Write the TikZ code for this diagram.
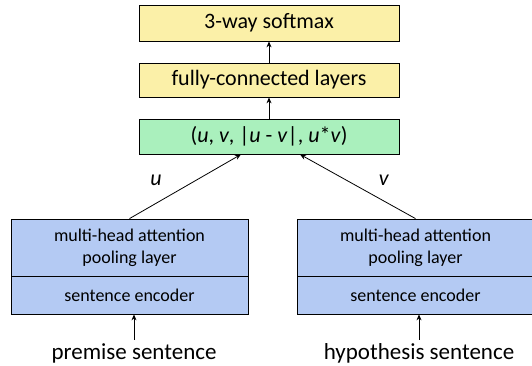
\documentclass[tikz,border=0pt]{standalone}
\usepackage{fontspec}
\setmainfont{Carlito}
\usepackage{xcolor}
\usetikzlibrary{arrows.meta, positioning}

\definecolor{boxyellow}{HTML}{FBF0A8}
\definecolor{boxgreen}{HTML}{AAF0BD}
\definecolor{boxblue}{HTML}{B4CAF3}

\begin{document}
\begin{tikzpicture}[
    x=1pt, y=-1pt,
    font=\fontsize{22}{26}\selectfont,
    topbox/.style={draw, thick, minimum width=260pt, inner sep=0pt},
    encbox/.style={draw, thick, fill=boxblue, minimum width=237pt, inner sep=0pt,
        font=\fontsize{18}{22}\selectfont, align=center},
    arr/.style={-{Stealth[length=6pt, width=5pt]}, thick}
]

\useasboundingbox (0,0) rectangle (532,366);

% output stack
\node[topbox, fill=boxyellow, minimum height=36pt] (smax) at (269,23) {3-way softmax};
\node[topbox, fill=boxyellow, minimum height=34pt] (fc) at (269,80) {fully-connected layers};
\node[topbox, fill=boxgreen, minimum height=35pt] (concat) at (269,136.5)
    {(\textit{u}, \textit{v}, |\textit{u} - \textit{v}|, \textit{u}*\textit{v})};

% premise branch
\node[encbox, minimum height=57pt] (ppool) at (129.5,247.5) {multi-head attention\\pooling layer};
\node[encbox, minimum height=38pt] (penc) at (129.5,295) {sentence encoder};
\node[font=\fontsize{23}{27}\selectfont] (prem) at (134,353) {premise sentence};

% hypothesis branch
\node[encbox, minimum height=57pt] (hpool) at (415.5,247.5) {multi-head attention\\pooling layer};
\node[encbox, minimum height=38pt] (henc) at (415.5,295) {sentence encoder};
\node[font=\fontsize{23}{27}\selectfont] (hyp) at (419,353) {hypothesis sentence};

% connectors
\draw[arr] (fc.north) -- (smax.south);
\draw[arr] (concat.north) -- (fc.south);
\draw[arr] (ppool.north) -- node[pos=0.6, left=31pt] {\textit{u}} ([xshift=-28pt]concat.south);
\draw[arr] (hpool.north) -- node[pos=0.6, right=29pt] {\textit{v}} ([xshift=31pt]concat.south);
\draw[arr] (prem.north) -- (prem |- penc.south);
\draw[arr] (hyp.north) -- (hyp |- henc.south);

\end{tikzpicture}
\end{document}
